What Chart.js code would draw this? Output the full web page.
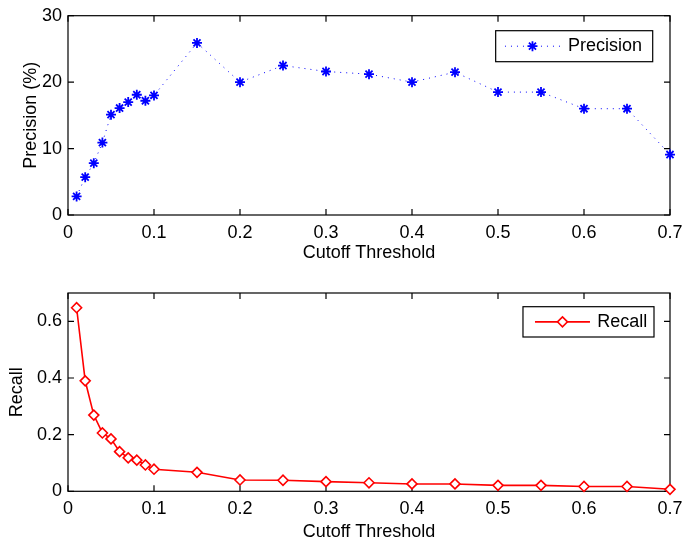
<!DOCTYPE html>
<html lang="en">
<head>
<meta charset="UTF-8">
<title>Precision / Recall vs Cutoff</title>
<style>
  body { margin: 0; background: #fff; }
  canvas { display: block; }
</style>
</head>
<body>
<canvas id="precChart" width="685" height="271"></canvas>
<canvas id="recChart" width="685" height="271"></canvas>

<script src="https://cdn.jsdelivr.net/npm/chart.js"></script>
<script>
// values
const thresholds = [0.01, 0.02, 0.03, 0.04, 0.05, 0.06, 0.07, 0.08, 0.09, 0.10,
                    0.15, 0.20, 0.25, 0.30, 0.35, 0.40, 0.45, 0.50, 0.55, 0.60, 0.65, 0.70];
const precision = [2.8, 5.7, 7.8, 10.9, 15.1, 16.1, 17.0, 18.1, 17.2, 18.0,
                   25.9, 20.0, 22.5, 21.6, 21.2, 20.0, 21.5, 18.5, 18.5, 16.0, 16.0, 9.1];
const recall = [0.648, 0.390, 0.269, 0.206, 0.185, 0.140, 0.118, 0.110, 0.093, 0.078,
                0.067, 0.040, 0.039, 0.034, 0.030, 0.026, 0.026, 0.021, 0.021, 0.017, 0.017, 0.007];

const xTicks = [0, 0.1, 0.2, 0.3, 0.4, 0.5, 0.6, 0.7];
const precTicks = [0, 10, 20, 30];
const recTicks = [0, 0.2, 0.4, 0.6];

const FONT = '"Liberation Sans", Arial, sans-serif';

// matlab-ish box with inward ticks on all four sides
const boxAxes = {
  id: 'boxAxes',
  beforeDatasetsDraw(chart) {
    const { ctx, chartArea: a, scales: { x, y } } = chart;
    const L = 6;
    ctx.save();
    ctx.strokeStyle = '#000';
    ctx.lineWidth = 1.2;
    ctx.strokeRect(a.left, a.top, a.right - a.left, a.bottom - a.top);
    ctx.beginPath();
    x.ticks.forEach(t => {
      const px = x.getPixelForValue(t.value);
      ctx.moveTo(px, a.bottom); ctx.lineTo(px, a.bottom - L);
      ctx.moveTo(px, a.top); ctx.lineTo(px, a.top + L);
    });
    y.ticks.forEach(t => {
      const py = y.getPixelForValue(t.value);
      ctx.moveTo(a.left, py); ctx.lineTo(a.left + L, py);
      ctx.moveTo(a.right, py); ctx.lineTo(a.right - L, py);
    });
    ctx.stroke();
    ctx.restore();
  }
};

// legend box inside the axes, top right
const boxLegend = {
  id: 'boxLegend',
  afterDraw(chart, args, o) {
    const { ctx, chartArea: a } = chart;
    const ds = chart.data.datasets[0];
    ctx.save();
    ctx.font = '18px ' + FONT;
    const tw = ctx.measureText(ds.label).width;
    const w = o.padL + o.lineLen + o.gap + tw + o.padR;
    const x1 = a.right - o.right, x0 = x1 - w;
    const y0 = a.top + o.top, ym = y0 + o.height / 2;
    ctx.fillStyle = '#fff';
    ctx.fillRect(x0, y0, w, o.height);
    ctx.strokeStyle = '#000';
    ctx.lineWidth = 1.2;
    ctx.strokeRect(x0, y0, w, o.height);

    // sample line
    ctx.strokeStyle = ds.borderColor;
    ctx.lineWidth = ds.borderWidth;
    ctx.setLineDash(ds.borderDash || []);
    ctx.beginPath();
    ctx.moveTo(x0 + o.padL, ym);
    ctx.lineTo(x0 + o.padL + o.lineLen, ym);
    ctx.stroke();
    ctx.setLineDash([]);

    // marker
    if (Chart.helpers && Chart.helpers.drawPoint) {
      ctx.fillStyle = ds.pointBackgroundColor;
      ctx.strokeStyle = ds.pointBorderColor;
      ctx.lineWidth = ds.pointBorderWidth;
      Chart.helpers.drawPoint(ctx, {
        pointStyle: ds.pointStyle, radius: ds.pointRadius,
        rotation: 0, borderWidth: ds.pointBorderWidth
      }, x0 + o.padL + o.lineLen / 2, ym);
    }

    ctx.fillStyle = '#000';
    ctx.textBaseline = 'middle';
    ctx.textAlign = 'left';
    ctx.fillText(ds.label, x0 + o.padL + o.lineLen + o.gap, ym);
    ctx.restore();
  }
};

function makeChart(id, opts) {
  return new Chart(document.getElementById(id), {
    type: 'line',
    data: {
      datasets: [{
        label: opts.label,
        data: thresholds.map((t, i) => ({ x: t, y: opts.values[i] })),
        borderColor: opts.color,
        borderWidth: opts.lineWidth,
        borderDash: opts.dash,
        pointStyle: opts.marker,
        pointRadius: opts.markerSize,
        pointBorderWidth: opts.markerWidth,
        pointBorderColor: opts.color,
        pointBackgroundColor: opts.markerFill,
        tension: 0,
        fill: false,
        clip: false
      }]
    },
    options: {
      responsive: false,
      animation: false,
      events: [],
      layout: { padding: { top: opts.padTop, right: 15, bottom: 0, left: 0 } },
      plugins: {
        legend: { display: false },
        tooltip: { enabled: false },
        boxLegend: opts.legend
      },
      scales: {
        x: {
          type: 'linear',
          min: 0,
          max: 0.7,
          afterBuildTicks: s => { s.ticks = xTicks.map(v => ({ value: v })); },
          afterFit: s => {
            s.height = opts.xHeight;
            s.paddingLeft = 0;
            s.paddingRight = 0;
          },
          grid: { display: false, drawTicks: false },
          border: { display: false },
          ticks: { color: '#000', padding: 7, font: { family: FONT, size: 18 } },
          title: {
            display: true,
            text: 'Cutoff Threshold',
            color: '#000',
            font: { family: FONT, size: 18, lineHeight: 1 },
            padding: { top: 0, bottom: opts.xTitlePad }
          }
        },
        y: {
          min: 0,
          max: opts.yMax,
          afterBuildTicks: s => { s.ticks = opts.yTicks.map(v => ({ value: v })); },
          afterFit: s => {
            s.width = 68;
            s.paddingTop = 0;
            s.paddingBottom = 0;
          },
          grid: { display: false, drawTicks: false },
          border: { display: false },
          ticks: { color: '#000', padding: 6, font: { family: FONT, size: 18 } },
          title: {
            display: true,
            text: opts.yTitle,
            color: '#000',
            font: { family: FONT, size: 18, lineHeight: 1 },
            padding: { top: opts.yTitlePad, bottom: 0 }
          }
        }
      }
    },
    plugins: [boxAxes, boxLegend]
  });
}

makeChart('precChart', {
  label: 'Precision',
  values: precision,
  color: '#0000ff',
  lineWidth: 1,
  dash: [1, 5],
  marker: 'star',
  markerSize: 5,
  markerWidth: 1.8,
  markerFill: '#0000ff',
  padTop: 15.7,
  xHeight: 56,
  xTitlePad: 8.5,
  yMax: 30,
  yTicks: precTicks,
  yTitle: 'Precision (%)',
  yTitlePad: 22,
  legend: { right: 17.3, top: 15, height: 31, padL: 9.3, lineLen: 55, gap: 8, padR: 10.7 }
});

makeChart('recChart', {
  label: 'Recall',
  values: recall,
  color: '#ff0000',
  lineWidth: 1.6,
  dash: [],
  marker: 'rectRot',
  markerSize: 5,
  markerWidth: 1.6,
  markerFill: '#ffffff',
  padTop: 22,
  xHeight: 50.7,
  xTitlePad: 1,
  yMax: 0.7,
  yTicks: recTicks,
  yTitle: 'Recall',
  yTitlePad: 8.5,
  legend: { right: 16, top: 13.7, height: 30.3, padL: 12, lineLen: 55, gap: 7.3, padR: 6.7 }
});
</script>
</body>
</html>
